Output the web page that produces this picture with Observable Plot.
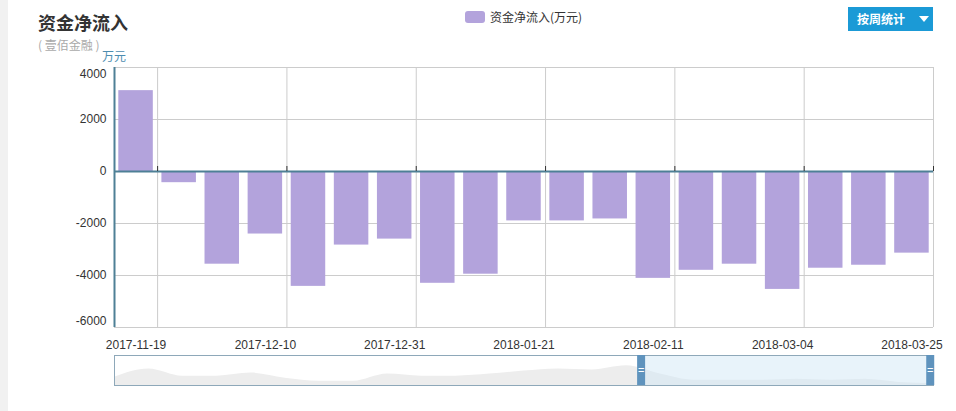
<!DOCTYPE html>
<html><head><meta charset="utf-8">
<script src="https://cdn.jsdelivr.net/npm/d3@7"></script>
<script src="https://cdn.jsdelivr.net/npm/@observablehq/plot@0.6"></script>
<style>
html,body{margin:0;padding:0;background:#fff;}
body{width:956px;height:411px;position:relative;overflow:hidden;font-family:"Liberation Sans","Noto Sans CJK SC",sans-serif;}
.abs{position:absolute;white-space:nowrap;}
#strip{left:0;top:0;width:8px;height:411px;background:#f1f1f1;}
#title{left:38px;top:10px;font-size:18px;font-weight:bold;color:#333;line-height:24px;font-family:"Noto Sans CJK SC",sans-serif;}
#sub{left:38px;top:37px;font-size:12px;color:#aaa;line-height:16px;font-family:"Noto Sans CJK SC",sans-serif;}
#unit{left:102px;top:48px;font-size:12px;color:#4d8db0;line-height:16px;font-family:"Noto Sans CJK SC",sans-serif;}
#legend{left:465px;top:8px;font-size:12px;color:#333;line-height:18px;display:flex;align-items:center;font-family:"Noto Sans CJK SC",sans-serif;}
#legend .sw{width:20px;height:12px;border-radius:3px;background:#b3a3dc;margin-right:5px;}
#btn{left:848px;top:7px;width:85px;height:24px;background:#1b9ad6;color:#fff;font-size:12px;font-weight:bold;line-height:24px;font-family:"Noto Sans CJK SC",sans-serif;}
#btn .t{position:absolute;left:9px;top:0;}
#btn .tri{position:absolute;left:71px;top:9px;width:0;height:0;border-left:5px solid transparent;border-right:5px solid transparent;border-top:6px solid #fff;}
#chart{left:0;top:0;}
#slider{left:0;top:355px;}
</style></head>
<body>
<div id="strip" class="abs"></div>
<div id="title" class="abs">资金净流入</div>
<div id="sub" class="abs">( 壹佰金融 )</div>
<div id="unit" class="abs">万元</div>
<div id="legend" class="abs"><div class="sw"></div><span>资金净流入(万元)</span></div>
<div id="btn" class="abs"><span class="t">按周统计</span><span class="tri"></span></div>
<div id="chart" class="abs"></div>
<div id="slider" class="abs"></div>
<script>
const dates = ["2017-11-19","2017-11-26","2017-12-03","2017-12-10","2017-12-17","2017-12-24","2017-12-31","2018-01-07","2018-01-14","2018-01-21","2018-01-28","2018-02-04","2018-02-11","2018-02-18","2018-02-25","2018-03-04","2018-03-11","2018-03-18","2018-03-25"];
const netInflow = [3110,-430,-3565,-2405,-4418,-2830,-2600,-4300,-3950,-1900,-1900,-1825,-4110,-3800,-3565,-4535,-3720,-3605,-3140];
const yTicks = [-6000,-4000,-2000,0,2000,4000];
const labelEvery = 3;
// data-zoom shadow (overall series silhouette) and selected window in percent
const shadowLevels = [8,16,9,9,12,7,4,4,11,9,9,11,14,16,15,19,11,5,5,5,6,5,6,3,2];
const zoomWindow = [64.3, 99.6];

const barColor = "#b3a3dc";
const axisColor = "#4e8096";
const gridColor = "#cccccc";

const data = dates.map((d, i) => ({date: d, i, value: netInflow[i]}));
const labelIdx = dates.map((d, i) => i).filter(i => i % labelEvery === 0);
const boundaries = labelIdx.map(i => i + 1);
const yMin = d3.min(yTicks), yMax = d3.max(yTicks);
const yInner = yTicks.filter(t => t !== yMin && t !== yMax);
const fmt = d => String(d);
const yAxisOpts = {tickSize: 0, tickPadding: 8, label: null, fill: "#333", tickFormat: fmt};

const chart = Plot.plot({
  width: 956, height: 350,
  marginTop: 67, marginBottom: 23, marginLeft: 114, marginRight: 23,
  style: {fontFamily: "'Liberation Sans','Noto Sans CJK SC',sans-serif", fontSize: "12px", color: "#333", background: "transparent", overflow: "visible"},
  x: {domain: [0, dates.length], axis: null},
  y: {domain: [yMin, yMax], axis: null},
  marks: [
    Plot.gridY(yTicks, {stroke: gridColor, strokeOpacity: 1}),
    Plot.gridX(boundaries, {stroke: gridColor, strokeOpacity: 1}),
    Plot.rectY(data, {x1: "i", x2: d => d.i + 1, y: "value", insetLeft: 4.3, insetRight: 4.3, fill: barColor}),
    Plot.ruleY([0], {stroke: axisColor, strokeWidth: 2}),
    Plot.ruleX([0], {stroke: axisColor, strokeWidth: 2}),
    Plot.ruleX(boundaries, {y1: 0, y2: 0, insetTop: -5, stroke: "#333"}),
    Plot.axisY(yInner, yAxisOpts),
    Plot.axisY([yMax], {...yAxisOpts, dy: 7}),
    Plot.axisY([yMin], {...yAxisOpts, dy: -6}),
    Plot.axisX(labelIdx.map(i => i + 0.5), {tickSize: 0, tickPadding: 13, tickFormat: d => dates[Math.floor(d)], label: null, fill: "#333"})
  ]
});
document.getElementById("chart").appendChild(chart);

const shadow = shadowLevels.map((v, k) => ({pct: k * 100 / (shadowLevels.length - 1), v}));
const slider = Plot.plot({
  width: 956, height: 30,
  marginTop: 0, marginBottom: 0, marginLeft: 114, marginRight: 23,
  style: {background: "transparent", overflow: "visible", fontFamily: "'Liberation Sans',sans-serif"},
  x: {domain: [0, 100], axis: null},
  y: {domain: [0, 29], axis: null},
  marks: [
    Plot.areaY(shadow, {x: "pct", y: "v", curve: "monotone-x", fill: "#ededed"}),
    Plot.rectX([zoomWindow], {x1: d => d[0], x2: d => d[1], fill: "#d2e8f6", fillOpacity: 0.5}),
    Plot.frame({stroke: "#8ea8b9"}),
    Plot.ruleX(zoomWindow, {stroke: "#5f93bd", strokeWidth: 8}),
    Plot.text(zoomWindow, {x: d => d, frameAnchor: "middle", text: () => "=", fill: "#fff", fontSize: 11})
  ]
});
document.getElementById("slider").appendChild(slider);
</script>
</body></html>
